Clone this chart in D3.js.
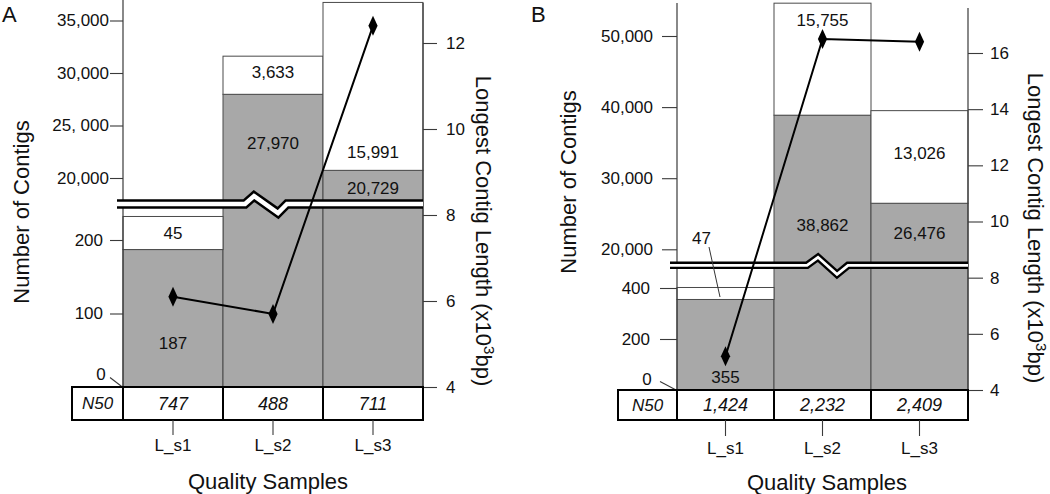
<!DOCTYPE html>
<html><head><meta charset="utf-8">
<script src="https://cdn.jsdelivr.net/npm/d3@7"></script>
<style>
body{margin:0;background:#fff;}
svg{display:block;font-family:"Liberation Sans",Arial,Helvetica,sans-serif;}
</style></head><body>
<svg id="c" width="1050" height="494"></svg>
<script>
// ---------------- DATA ----------------
const categories = ["L_s1", "L_s2", "L_s3"];

// Panel A
const aGray = [187, 27970, 20729];
const aWhite = [45, 3633, 15991];
const aLongest = [6.1, 5.7, 12.4];
const aN50 = ["747", "488", "711"];
const aLowerTicks = [0, 100, 200];
const aLowerTickLabels = ["0", "100", "200"];
const aUpperTicks = [20000, 25000, 30000, 35000];
const aUpperTickLabels = ["20,000", "25, 000", "30,000", "35,000"];
const aRightTicks = [4, 6, 8, 10, 12];

// Panel B
const bGray = [355, 38862, 26476];
const bWhite = [47, 15755, 13026];
const bLongest = [5.2, 16.5, 16.4];
const bN50 = ["1,424", "2,232", "2,409"];
const bLowerTicks = [0, 200, 400];
const bLowerTickLabels = ["0", "200", "400"];
const bUpperTicks = [20000, 30000, 40000, 50000];
const bUpperTickLabels = ["20,000", "30,000", "40,000", "50,000"];
const bRightTicks = [4, 6, 8, 10, 12, 14, 16];

// ---------------- STYLE / LAYOUT ----------------
const GRAY = "#a8a8a8", EDGE = "#4a4a4a", TXT = "#111", AX = "#3a3a3a";
const svg = d3.select("#c");

const layoutA = {
  letter: "A", letterX: 2, letterY: 22,
  x0: 123, x1: 423, base: 387,
  lowDomMax: 200, lowTop: 240, lowVisibleMax: 240,
  upDomMax: 35000, upZero: 388, upTop: 20.5,
  rightMax: 12, rightTop: 43,
  axisTop: 0, rightAxisTop: 3,
  breakY: 204, breakX0: 117, breakOuter: 9.5, breakInner: 4.5, breakHalf: 4.5,
  zig: [22, 31, 55, 64], zigUp: -8, zigDown: 9,
  upTick: 13, upPad: 1, lowTick: 13, lowPad: 7,
  zeroDX: -13, zeroDY: -10, zeroTX: -22, zeroTY: -13,
  rTick: 14, rPad: 9,
  tableX0: 72, tableBottom: 420,
  catTick: 15, catPad: 4,
  grayDy: [25, -4, 3], whiteDy: [0, -3, 66],
  callout: null,
  leftTitle: [21, 212], rightTitle: [484, 231], bottomTitle: [268, 481]
};
const layoutB = {
  letter: "B", letterX: 531, letterY: 22,
  x0: 677, x1: 968, base: 390,
  lowDomMax: 400, lowTop: 288, lowVisibleMax: 420,
  upDomMax: 50000, upZero: 391.5, upTop: 36,
  rightMax: 16, rightTop: 53,
  axisTop: 3, rightAxisTop: 8,
  breakY: 265.3, breakX0: 670, breakOuter: 7.5, breakInner: 2.8, breakHalf: 3.75,
  zig: [33, 44, 63, 74], zigUp: -8, zigDown: 9,
  upTick: 15, upPad: 9, lowTick: 17, lowPad: 10,
  zeroDX: -17, zeroDY: -9, zeroTX: -30, zeroTY: -11,
  rTick: 15, rPad: 7,
  tableX0: 618, tableBottom: 420,
  catTick: 16, catPad: 6,
  grayDy: [32, 37, 1], whiteDy: [0, -39, -4],
  callout: { i: 0, dx: -24, y: 238, lx1: -16.5, ly1: 247, lx2: -5.5, ly2: 297 },
  leftTitle: [568, 182], rightTitle: [1036, 228], bottomTitle: [827, 482]
};

function drawPanel(L, gray, white, longest, n50, lowT, lowLab, upT, upLab, rT) {
  const g = svg.append("g");
  const x = d3.scaleBand().domain(categories).range([L.x0, L.x1]).padding(0);
  const yLow = d3.scaleLinear().domain([0, L.lowDomMax]).range([L.base, L.lowTop]);
  const yUp = d3.scaleLinear().domain([0, L.upDomMax]).range([L.upZero, L.upTop]);
  const yR = d3.scaleLinear().domain([4, L.rightMax]).range([L.base, L.rightTop]);
  const bandTop = L.breakY - L.breakHalf;

  const rows = categories.map((c, i) => {
    const tot = gray[i] + white[i];
    const ys = tot <= L.lowVisibleMax ? yLow : yUp;
    const low = ys === yLow;
    return { c, i, g: gray[i], w: white[i], tot, ys, low };
  });

  // bars: gray (lower segment) and white (upper segment)
  g.selectAll("rect.gray").data(rows).join("rect")
    .attr("x", d => x(d.c)).attr("width", x.bandwidth())
    .attr("y", d => d.ys(d.g)).attr("height", d => L.base - d.ys(d.g))
    .attr("fill", GRAY).attr("stroke", EDGE).attr("stroke-width", 1);
  g.selectAll("rect.white").data(rows).join("rect")
    .attr("x", d => x(d.c)).attr("width", x.bandwidth())
    .attr("y", d => d.ys(d.tot)).attr("height", d => d.ys(d.g) - d.ys(d.tot))
    .attr("fill", "#fff").attr("stroke", EDGE).attr("stroke-width", 1);

  // axis lines
  g.append("line").attr("x1", L.x0).attr("x2", L.x0).attr("y1", L.axisTop).attr("y2", L.base)
    .attr("stroke", AX).attr("stroke-width", 1.2);
  g.append("line").attr("x1", L.x1).attr("x2", L.x1).attr("y1", L.rightAxisTop).attr("y2", L.base)
    .attr("stroke", AX).attr("stroke-width", 1.2);

  // left axes (upper & lower segments)
  const styleAxis = sel => {
    sel.select(".domain").remove();
    sel.selectAll(".tick line").attr("stroke", AX).attr("stroke-width", 1.1);
    sel.selectAll(".tick text").attr("fill", TXT).attr("font-size", 17)
      .attr("font-family", "'Liberation Sans', Arial, sans-serif");
  };
  const gUp = g.append("g").attr("transform", `translate(${L.x0},0)`)
    .call(d3.axisLeft(yUp).tickValues(upT).tickSize(L.upTick).tickPadding(L.upPad)
      .tickFormat((d, i) => upLab[i]));
  styleAxis(gUp);
  const gLow = g.append("g").attr("transform", `translate(${L.x0},0)`)
    .call(d3.axisLeft(yLow).tickValues(lowT).tickSize(L.lowTick).tickPadding(L.lowPad)
      .tickFormat((d, i) => lowLab[i]));
  styleAxis(gLow);
  // zero tick is a slanted leader
  gLow.selectAll(".tick").filter(d => d === 0).each(function () {
    const t = d3.select(this);
    t.select("line").attr("x2", L.zeroDX).attr("y2", L.zeroDY);
    t.select("text").attr("x", L.zeroTX).attr("y", L.zeroTY).attr("dy", "0.32em").attr("text-anchor", "middle");
  });

  // right axis
  const gR = g.append("g").attr("transform", `translate(${L.x1},0)`)
    .call(d3.axisRight(yR).tickValues(rT).tickSize(L.rTick).tickPadding(L.rPad).tickFormat(d3.format("d")));
  styleAxis(gR);

  // axis break band with zigzag inside the second column
  const xb = x(categories[1]);
  const bandPts = [
    [L.breakX0, L.breakY],
    [xb + L.zig[0], L.breakY],
    [xb + L.zig[1], L.breakY + L.zigUp],
    [xb + L.zig[2], L.breakY + L.zigDown],
    [xb + L.zig[3], L.breakY],
    [L.x1, L.breakY]
  ];
  const bl = d3.line();
  g.append("path").attr("d", bl(bandPts)).attr("fill", "none").attr("stroke", "#000")
    .attr("stroke-width", L.breakOuter).attr("stroke-linejoin", "miter");
  g.append("path").attr("d", bl(bandPts)).attr("fill", "none").attr("stroke", "#fff")
    .attr("stroke-width", L.breakInner).attr("stroke-linejoin", "miter");

  // bar value labels
  const lab = g.append("g").attr("font-size", 17).attr("fill", TXT).attr("text-anchor", "middle");
  rows.forEach(d => {
    const cx = x(d.c) + x.bandwidth() / 2;
    const gTop = d.ys(d.g), gBot = d.low ? L.base : bandTop;
    lab.append("text").attr("x", cx).attr("y", (gTop + gBot) / 2 + L.grayDy[d.i])
      .attr("dy", "0.35em").text(d3.format(",")(d.g));
    if (L.callout && L.callout.i === d.i) {
      const co = L.callout;
      lab.append("text").attr("x", cx + co.dx).attr("y", co.y).attr("dy", "0.35em").text(d3.format(",")(d.w));
      g.append("line").attr("x1", cx + co.lx1).attr("y1", co.ly1).attr("x2", cx + co.lx2).attr("y2", co.ly2)
        .attr("stroke", "#333").attr("stroke-width", 1);
    } else {
      lab.append("text").attr("x", cx).attr("y", (d.ys(d.tot) + gTop) / 2 + L.whiteDy[d.i])
        .attr("dy", "0.35em").text(d3.format(",")(d.w));
    }
  });

  // longest contig line + diamonds
  const line = d3.line().x((d, i) => x(categories[i]) + x.bandwidth() / 2).y(d => yR(d));
  g.append("path").attr("d", line(longest)).attr("fill", "none").attr("stroke", "#000").attr("stroke-width", 2);
  g.selectAll("path.dia").data(longest).join("path")
    .attr("transform", (d, i) => `translate(${x(categories[i]) + x.bandwidth() / 2},${yR(d)})`)
    .attr("d", "M0,-10L4.6,0L0,10L-4.6,0Z").attr("fill", "#000");

  // N50 table
  const tb = g.append("g");
  tb.append("rect").attr("x", L.tableX0).attr("y", L.base).attr("width", L.x1 - L.tableX0)
    .attr("height", L.tableBottom - L.base).attr("fill", "#fff").attr("stroke", "#000").attr("stroke-width", 2);
  const cuts = [L.x0].concat(categories.slice(1).map(c => x(c)));
  tb.selectAll("line.cut").data(cuts).join("line")
    .attr("x1", d => d).attr("x2", d => d).attr("y1", L.base).attr("y2", L.tableBottom)
    .attr("stroke", "#000").attr("stroke-width", 2);
  const ty = (L.base + L.tableBottom) / 2;
  tb.append("text").attr("x", (L.tableX0 + L.x0) / 2).attr("y", ty).attr("dy", "0.35em")
    .attr("text-anchor", "middle").attr("font-style", "italic").attr("font-size", 17).attr("fill", TXT).text("N50");
  tb.selectAll("text.n").data(n50).join("text")
    .attr("x", (d, i) => x(categories[i]) + x.bandwidth() / 2).attr("y", ty).attr("dy", "0.35em")
    .attr("text-anchor", "middle").attr("font-style", "italic").attr("font-size", 18).attr("fill", TXT).text(d => d);

  // category axis under the table
  const gX = g.append("g").attr("transform", `translate(0,${L.tableBottom})`)
    .call(d3.axisBottom(x).tickSize(L.catTick).tickPadding(L.catPad));
  styleAxis(gX);

  // titles
  g.append("text").attr("x", L.letterX).attr("y", L.letterY).attr("font-size", 22).attr("fill", TXT).text(L.letter);
  g.append("text").attr("transform", `translate(${L.leftTitle[0]},${L.leftTitle[1]}) rotate(-90)`)
    .attr("text-anchor", "middle").attr("dy", "0.35em").attr("font-size", 22).attr("fill", TXT).text("Number of Contigs");
  const rt = g.append("text").attr("transform", `translate(${L.rightTitle[0]},${L.rightTitle[1]}) rotate(90)`)
    .attr("text-anchor", "middle").attr("dy", "0.35em").attr("font-size", 22).attr("fill", TXT);
  rt.append("tspan").text("Longest Contig Length (x10");
  rt.append("tspan").attr("font-size", 15).attr("dy", -8).text("3");
  rt.append("tspan").attr("dy", 8).text("bp)");
  g.append("text").attr("x", L.bottomTitle[0]).attr("y", L.bottomTitle[1]).attr("text-anchor", "middle")
    .attr("dy", "0.35em").attr("font-size", 22).attr("fill", TXT).text("Quality Samples");
}

drawPanel(layoutA, aGray, aWhite, aLongest, aN50, aLowerTicks, aLowerTickLabels, aUpperTicks, aUpperTickLabels, aRightTicks);
drawPanel(layoutB, bGray, bWhite, bLongest, bN50, bLowerTicks, bLowerTickLabels, bUpperTicks, bUpperTickLabels, bRightTicks);
</script>
</body></html>
